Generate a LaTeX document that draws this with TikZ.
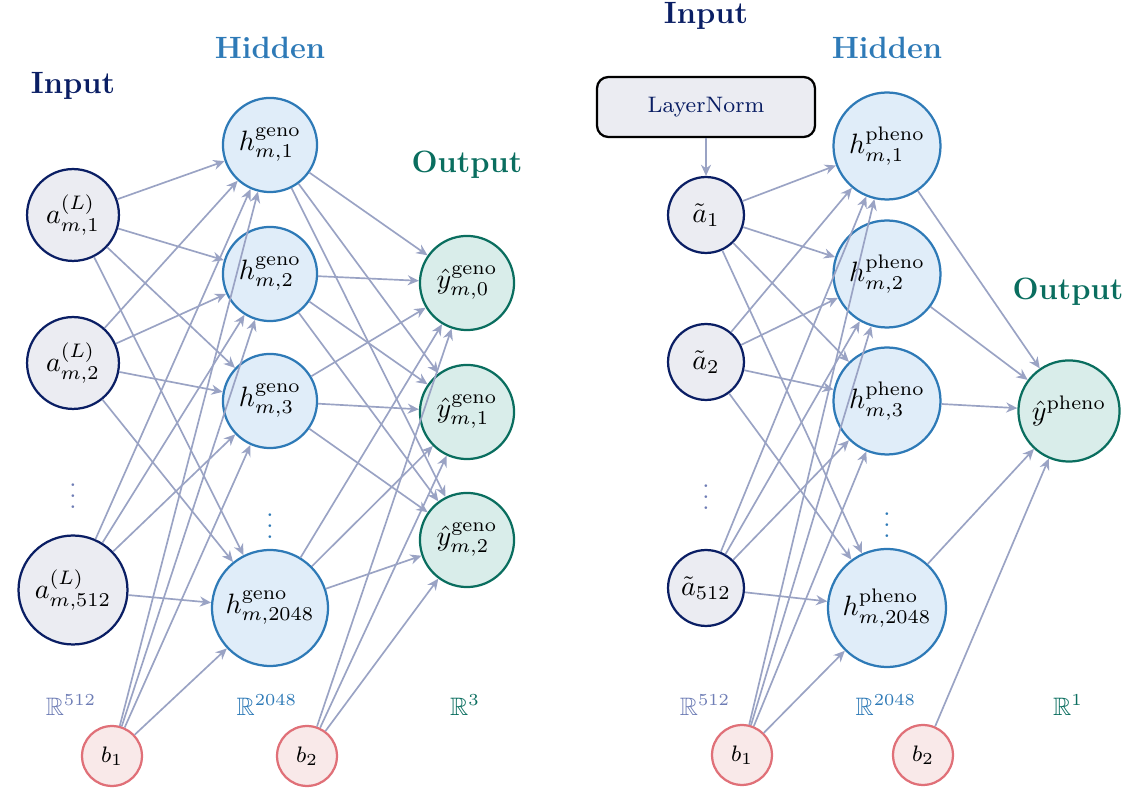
\documentclass[tikz,border=0pt]{standalone}
\usepackage{amssymb}
\usetikzlibrary{arrows.meta}
\definecolor{inC}{HTML}{0A1E64}
\definecolor{inF}{HTML}{EBECF2}
\definecolor{hidC}{HTML}{2E7AB7}
\definecolor{hidF}{HTML}{E0EDF9}
\definecolor{outC}{HTML}{0A6E5F}
\definecolor{outF}{HTML}{D9EDEA}
\definecolor{biasC}{HTML}{E07078}
\definecolor{biasF}{HTML}{F9E9E9}
\definecolor{arrC}{HTML}{9AA3C4}
\definecolor{dimC}{HTML}{6E7DB5}
\begin{document}
\begin{tikzpicture}[x=0.357pt,y=-0.357pt,
  neuron/.style={circle, draw, line width=0.8pt, inner sep=0pt},
  innode/.style={neuron, draw=inC, fill=inF},
  hidnode/.style={neuron, draw=hidC, fill=hidF},
  outnode/.style={neuron, draw=outC, fill=outF},
  biasnode/.style={neuron, draw=biasC, fill=biasF, minimum size=21.4pt, font=\footnotesize},
  conn/.style={draw=arrC, line width=0.6pt, -{Stealth[length=4pt,width=3.6pt]}},
  head/.style={font=\fontsize{11}{13}\selectfont\bfseries, inner sep=0pt},
  dimlabel/.style={font=\small, inner sep=0pt},
  dotsl/.style={font=\small, inner sep=0pt},
  normbox/.style={draw=black, line width=0.8pt, fill=inF, rounded corners=4pt,
    minimum width=77.8pt, minimum height=21.4pt, font=\footnotesize, text=inC}
]
\useasboundingbox (0,0) rectangle (1137,792);

% ---------- left network ----------
\node[head, text=inC]  (LinT)  at (73,86)  {Input};
\node[head, text=hidC] (LhidT) at (270,48) {Hidden};
\node[head, text=outC] (LoutT) at (467,165) {Output};

\node[innode, minimum size=32.8pt] (La1) at (73,215) {$a^{(L)}_{m,1}$};
\node[innode, minimum size=32.8pt] (La2) at (73,363) {$a^{(L)}_{m,2}$};
\node[dotsl, text=dimC] (Ladots) at (73,488) {$\vdots$};
\node[innode, minimum size=38.9pt] (La3) at (73,590) {$a^{(L)}_{m,512}$};

\node[hidnode, minimum size=33.6pt] (Lh1) at (270,145) {$h^{\mathrm{geno}}_{m,1}$};
\node[hidnode, minimum size=33.6pt] (Lh2) at (270,274) {$h^{\mathrm{geno}}_{m,2}$};
\node[hidnode, minimum size=33.6pt] (Lh3) at (270,401) {$h^{\mathrm{geno}}_{m,3}$};
\node[dotsl, text=hidC] (Lhdots) at (270,518) {$\vdots$};
\node[hidnode, minimum size=41.4pt] (Lh4) at (270,608) {$h^{\mathrm{geno}}_{m,2048}$};

\node[outnode, minimum size=33.6pt] (Ly0) at (467,283) {$\hat{y}^{\mathrm{geno}}_{m,0}$};
\node[outnode, minimum size=33.6pt] (Ly1) at (467,412) {$\hat{y}^{\mathrm{geno}}_{m,1}$};
\node[outnode, minimum size=33.6pt] (Ly2) at (467,540) {$\hat{y}^{\mathrm{geno}}_{m,2}$};

\node[biasnode] (Lb1) at (112,756) {$b_1$};
\node[biasnode] (Lb2) at (307,756) {$b_2$};

\node[dimlabel, text=dimC] (LR1) at (71,705)  {$\mathbb{R}^{512}$};
\node[dimlabel, text=hidC] (LR2) at (267,705) {$\mathbb{R}^{2048}$};
\node[dimlabel, text=outC] (LR3) at (465,705) {$\mathbb{R}^{3}$};

\foreach \i in {La1,La2,La3,Lb1}
  \foreach \j in {Lh1,Lh2,Lh3,Lh4}
    \draw[conn] (\i) -- (\j);
\foreach \i in {Lh1,Lh2,Lh3,Lh4,Lb2}
  \foreach \j in {Ly0,Ly1,Ly2}
    \draw[conn] (\i) -- (\j);

% ---------- right network ----------
\node[head, text=inC]  (RinT)  at (706,16)  {Input};
\node[head, text=hidC] (RhidT) at (887,48)  {Hidden};
\node[head, text=outC] (RoutT) at (1068,292) {Output};

\node[normbox] (Rln) at (706,107) {LayerNorm};

\node[innode, minimum size=27.1pt] (Ra1) at (706,215) {$\tilde{a}_1$};
\node[innode, minimum size=27.1pt] (Ra2) at (706,362) {$\tilde{a}_2$};
\node[dotsl, text=dimC] (Radots) at (706,489) {$\vdots$};
\node[innode, minimum size=27.1pt] (Ra3) at (706,588) {$\tilde{a}_{512}$};

\node[hidnode, minimum size=38.2pt] (Rh1) at (887,146) {$h^{\mathrm{pheno}}_{m,1}$};
\node[hidnode, minimum size=38.2pt] (Rh2) at (887,274) {$h^{\mathrm{pheno}}_{m,2}$};
\node[hidnode, minimum size=38.2pt] (Rh3) at (887,401) {$h^{\mathrm{pheno}}_{m,3}$};
\node[dotsl, text=hidC] (Rhdots) at (887,517) {$\vdots$};
\node[hidnode, minimum size=42.1pt] (Rh4) at (887,608) {$h^{\mathrm{pheno}}_{m,2048}$};

\node[outnode, minimum size=36.1pt] (Ry) at (1069,411) {$\hat{y}^{\mathrm{pheno}}$};

\node[biasnode] (Rb1) at (742,755) {$b_1$};
\node[biasnode] (Rb2) at (923,755) {$b_2$};

\node[dimlabel, text=dimC] (RR1) at (705,705)  {$\mathbb{R}^{512}$};
\node[dimlabel, text=hidC] (RR2) at (886,705)  {$\mathbb{R}^{2048}$};
\node[dimlabel, text=outC] (RR3) at (1068,705) {$\mathbb{R}^{1}$};

\draw[conn] (Rln) -- (Ra1);
\foreach \i in {Ra1,Ra2,Ra3,Rb1}
  \foreach \j in {Rh1,Rh2,Rh3,Rh4}
    \draw[conn] (\i) -- (\j);
\foreach \i in {Rh1,Rh2,Rh3,Rh4,Rb2}
  \draw[conn] (\i) -- (Ry);
\end{tikzpicture}
\end{document}
